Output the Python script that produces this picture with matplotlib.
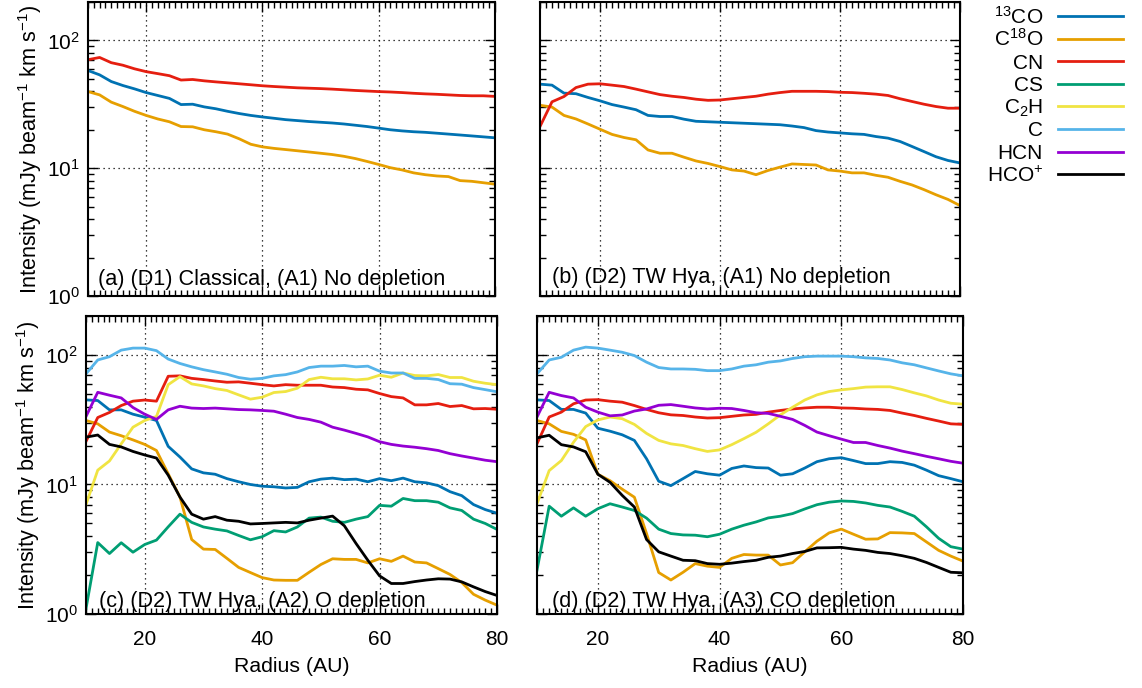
import numpy as np
import matplotlib
matplotlib.use('Agg')
import matplotlib.pyplot as plt
from matplotlib.lines import Line2D
from matplotlib.ticker import LogLocator, MultipleLocator, NullFormatter

plt.rcParams['font.family'] = ['Liberation Sans', 'DejaVu Sans']
plt.rcParams['mathtext.fontset'] = 'custom'
plt.rcParams['mathtext.rm'] = 'Liberation Sans'
plt.rcParams['mathtext.it'] = 'Liberation Sans:italic'
plt.rcParams['mathtext.bf'] = 'Liberation Sans:bold'

# radius grid (AU), every 2 AU from 10 to 80
radius = np.arange(10, 81, 2)

species = ['13CO', 'C18O', 'CN', 'CS', 'C2H', 'C', 'HCN', 'HCO+']
labels = [r'$^{13}$CO', r'C$^{18}$O', 'CN', 'CS', r'C$_2$H', 'C', 'HCN', r'HCO$^{+}$']
colors = ['#0072b2', '#e69f00', '#e51e10', '#009e73', '#f0e442', '#56b4e9', '#9400d3', 'black']

# (a) D1 classical, A1 no depletion
a_13co = [58.2, 53.8, 47.7, 44.4, 41.8, 39.1, 37.1, 35.2, 31.5, 31.7, 30.2, 29.2, 27.9, 26.8, 25.9, 25.2,
          24.6, 24.0, 23.6, 23.2, 22.9, 22.6, 22.2, 21.7, 21.2, 20.6, 20.0, 19.6, 19.3, 19.1, 18.8, 18.5,
          18.2, 17.9, 17.6, 17.3]
a_c18o = [39.8, 37.5, 32.9, 30.4, 27.9, 25.9, 24.3, 23.1, 21.2, 21.1, 20.0, 19.3, 18.5, 17.0, 15.4, 14.7,
          14.3, 14.0, 13.7, 13.4, 13.1, 12.8, 12.4, 11.9, 11.3, 10.7, 10.1, 9.7, 9.2, 8.9, 8.7, 8.6,
          8.0, 7.9, 7.7, 7.5]
a_cn = [70.7, 73.6, 67.0, 64.0, 60.0, 57.0, 55.0, 53.0, 49.0, 49.5, 48.3, 47.4, 46.6, 45.8, 45.0, 44.2,
        43.6, 43.1, 42.6, 42.3, 42.0, 41.6, 41.1, 40.6, 40.2, 39.8, 39.5, 39.1, 38.6, 38.2, 37.9, 37.5,
        37.1, 36.9, 36.9, 36.5]

# (b) D2 TW Hya, A1 no depletion
b_13co = [45.5, 44.7, 38.7, 38.3, 35.8, 33.7, 31.5, 30.1, 28.7, 25.9, 25.4, 25.4, 24.2, 23.3, 23.1, 22.9,
          22.7, 22.5, 22.3, 22.1, 21.9, 21.4, 20.8, 19.7, 19.2, 18.9, 18.6, 18.4, 17.7, 17.2, 16.2, 14.8,
          13.5, 12.3, 11.5, 11.0]
b_c18o = [31.1, 30.1, 25.9, 24.3, 22.2, 20.2, 18.4, 17.4, 16.7, 13.9, 13.1, 13.1, 12.2, 11.4, 10.9, 10.3,
          9.7, 9.5, 8.9, 9.6, 10.2, 10.8, 10.7, 10.6, 9.7, 9.5, 9.2, 9.2, 8.8, 8.5, 7.9, 7.4,
          6.8, 6.2, 5.7, 5.1]
b_cn = [21.2, 33.1, 36.4, 42.8, 45.5, 45.8, 44.7, 43.6, 41.6, 39.6, 37.7, 36.6, 35.8, 34.7, 34.0, 34.2,
        35.0, 35.8, 36.6, 38.0, 39.1, 40.0, 40.0, 40.0, 39.8, 39.3, 39.1, 38.6, 38.0, 37.1, 35.0, 33.3,
        31.7, 30.4, 29.5, 29.5]

# (c) D2 TW Hya, A2 O depletion
c_13co = [45.0, 44.5, 37.7, 37.7, 34.9, 33.1, 31.2, 19.7, 16.3, 13.2, 12.3, 12.0, 11.1, 10.5, 10.0, 9.7,
          9.6, 9.4, 9.5, 10.5, 11.0, 11.2, 10.9, 11.0, 10.5, 11.1, 10.7, 11.2, 10.5, 10.3, 9.8, 8.8,
          8.2, 7.0, 6.4, 6.0]
c_c18o = [31.2, 29.4, 25.4, 23.8, 22.1, 20.4, 18.3, 12.1, 8.0, 3.76, 3.17, 3.15, 2.69, 2.29, 2.09, 1.91,
          1.83, 1.82, 1.82, 2.10, 2.41, 2.67, 2.64, 2.64, 2.48, 2.67, 2.55, 2.80, 2.52, 2.48, 2.24, 2.02,
          1.75, 1.42, 1.28, 1.17]
c_cn = [21.5, 32.9, 36.0, 40.7, 44.0, 44.9, 44.0, 68.5, 69.0, 66.0, 64.6, 63.0, 61.6, 62.0, 60.5, 59.0,
        57.7, 59.0, 58.4, 58.4, 58.4, 56.6, 56.0, 54.4, 53.8, 50.4, 47.7, 46.6, 41.2, 41.2, 42.2, 40.0,
        40.7, 38.4, 38.6, 38.1]
c_cs = [1.1, 3.56, 2.93, 3.55, 3.0, 3.44, 3.72, 4.71, 5.9, 5.1, 4.7, 4.52, 4.38, 4.04, 3.74, 3.95,
        4.4, 4.3, 4.7, 5.5, 5.6, 5.2, 5.1, 5.4, 5.65, 6.9, 6.8, 7.8, 7.5, 7.5, 7.3, 6.6,
        6.3, 5.4, 5.0, 4.5]
c_c2h = [7.0, 12.9, 15.2, 20.6, 27.7, 31.2, 33.5, 59.0, 68.0, 59.8, 57.7, 55.0, 53.2, 49.2, 45.6, 47.2,
         51.3, 52.2, 55.4, 64.6, 67.3, 65.5, 65.5, 64.2, 65.3, 69.8, 67.3, 72.6, 69.4, 69.0, 70.6, 67.0,
         67.0, 62.7, 60.5, 59.0]
c_c = [71.5, 91.5, 97.0, 109, 113, 113, 108, 93.0, 86.0, 81.0, 77.0, 74.0, 71.0, 67.0, 65.0, 66.0,
       69.0, 70.5, 74.0, 80.0, 82.0, 82.0, 83.0, 81.0, 82.0, 75.0, 72.6, 72.6, 66.0, 66.0, 64.6, 60.0,
       59.5, 56.0, 54.0, 52.0]
c_hcn = [33.5, 51.5, 48.9, 46.6, 39.3, 34.9, 31.8, 37.7, 40.2, 38.9, 38.6, 38.9, 38.4, 37.9, 37.7, 37.3,
         36.8, 34.9, 32.9, 31.8, 30.3, 27.7, 26.3, 24.8, 23.3, 21.4, 20.4, 19.8, 19.4, 18.9, 18.3, 17.3,
         16.6, 16.0, 15.4, 15.0]
c_hcop = [23.2, 24.1, 20.4, 19.5, 18.0, 16.9, 16.0, 11.8, 8.0, 5.9, 5.4, 5.65, 5.3, 5.2, 4.96, 5.0,
          5.05, 5.1, 5.05, 5.3, 5.5, 5.7, 4.8, 3.5, 2.6, 1.97, 1.72, 1.72, 1.78, 1.83, 1.87, 1.86,
          1.77, 1.62, 1.49, 1.39]

# (d) D2 TW Hya, A3 CO depletion
d_13co = [45.0, 44.5, 38.0, 38.0, 35.6, 27.2, 25.8, 24.2, 21.9, 15.8, 10.6, 9.8, 11.1, 12.6, 12.1, 11.8,
          13.3, 13.9, 13.5, 13.4, 11.8, 12.1, 13.4, 15.0, 15.8, 16.1, 15.3, 14.5, 14.5, 15.0, 14.8, 14.1,
          12.9, 11.7, 11.1, 10.5]
d_c18o = [31.2, 29.4, 25.7, 24.4, 22.1, 12.0, 10.7, 9.2, 7.98, 4.18, 2.09, 1.83, 2.10, 2.45, 2.34, 2.29,
          2.69, 2.88, 2.85, 2.85, 2.39, 2.49, 3.02, 3.65, 4.23, 4.52, 4.13, 3.78, 3.80, 4.25, 4.23, 4.18,
          3.6, 3.1, 2.80, 2.56]
d_cn = [20.6, 33.2, 36.2, 42.0, 44.9, 45.2, 44.0, 43.2, 40.7, 38.0, 35.8, 34.5, 34.1, 33.2, 32.6, 32.8,
        33.6, 34.4, 34.8, 36.2, 37.3, 38.3, 39.0, 39.5, 39.5, 39.0, 38.8, 38.3, 38.0, 37.3, 35.6, 34.1,
        32.4, 30.9, 29.4, 29.1]
d_cs = [2.18, 6.8, 5.69, 6.6, 5.69, 6.5, 7.1, 6.7, 6.3, 5.5, 4.52, 4.18, 4.08, 4.06, 3.95, 4.13,
        4.52, 4.85, 5.14, 5.52, 5.69, 5.96, 6.47, 6.98, 7.3, 7.46, 7.4, 7.2, 6.9, 6.7, 6.2, 5.69,
        4.71, 3.84, 3.31, 3.17]
d_c2h = [7.1, 12.8, 15.3, 21.2, 28.0, 31.5, 33.2, 32.2, 29.1, 24.8, 21.9, 20.6, 20.0, 18.9, 18.0, 18.5,
         20.3, 22.6, 25.3, 29.4, 34.5, 39.5, 44.9, 49.2, 52.2, 53.8, 55.0, 56.5, 56.8, 56.8, 54.1, 51.0,
         48.3, 44.9, 42.4, 41.7]
d_c = [71.5, 91.5, 96.0, 109, 115, 113, 109, 105, 99.0, 88.0, 80.0, 78.0, 78.0, 77.5, 75.7, 75.7,
       78.0, 82.0, 84.0, 88.0, 90.0, 94.0, 97.0, 98.0, 98.0, 98.0, 97.0, 95.0, 94.0, 91.5, 87.0, 84.0,
       79.5, 75.3, 71.5, 69.0]
d_hcn = [33.2, 51.5, 48.6, 46.6, 39.5, 36.2, 33.9, 34.4, 36.9, 38.3, 40.9, 41.4, 40.2, 39.0, 38.3, 38.8,
         38.6, 37.3, 35.8, 35.4, 33.6, 31.8, 28.6, 25.4, 23.8, 22.4, 21.1, 21.1, 20.0, 19.1, 18.1, 17.3,
         16.5, 15.8, 15.1, 14.6]
d_hcop = [22.9, 24.0, 20.3, 19.5, 17.9, 12.0, 10.4, 8.24, 6.7, 3.76, 3.02, 2.80, 2.6, 2.58, 2.45, 2.42,
          2.47, 2.54, 2.6, 2.74, 2.80, 2.93, 3.04, 3.24, 3.25, 3.27, 3.17, 3.10, 2.99, 2.93, 2.82, 2.69,
          2.5, 2.29, 2.10, 2.08]

panels = [
    ('(a) (D1) Classical, (A1) No depletion', [a_13co, a_c18o, a_cn]),
    ('(b) (D2) TW Hya, (A1) No depletion', [b_13co, b_c18o, b_cn]),
    ('(c) (D2) TW Hya, (A2) O depletion', [c_13co, c_c18o, c_cn, c_cs, c_c2h, c_c, c_hcn, c_hcop]),
    ('(d) (D2) TW Hya, (A3) CO depletion', [d_13co, d_c18o, d_cn, d_cs, d_c2h, d_c, d_hcn, d_hcop]),
]

W, H = 1142, 688
# axes boxes in pixels: left, top, right, bottom
boxes = [(88, 2, 495, 296), (540, 2, 960, 296), (86, 316, 497, 614), (537, 316, 963, 614)]
# label offsets inside each panel in pixels (from left, baseline above bottom)
text_off = [(10, 11), (12, 13), (13, 7), (15, 7)]

fig = plt.figure(figsize=(W / 100, H / 100), dpi=100)
fs = 15
tfs = 15.6
for i, ((title, series), (l, t, r, b)) in enumerate(zip(panels, boxes)):
    ax = fig.add_axes([l / W, (H - b) / H, (r - l) / W, (b - t) / H])
    for j, vals in enumerate(series):
        ax.plot(radius, vals, color=colors[j], lw=2, label=labels[j])
    ax.set_yscale('log')
    ax.set_xlim(10, 80)
    ax.set_ylim(1, 200)
    ax.xaxis.set_major_locator(MultipleLocator(20))
    ax.xaxis.set_minor_locator(MultipleLocator(1))
    ax.yaxis.set_major_locator(LogLocator(base=10))
    ax.yaxis.set_minor_locator(LogLocator(base=10, subs=np.arange(2, 10)))
    ax.yaxis.set_minor_formatter(NullFormatter())
    ax.tick_params(which='both', direction='in', top=True, right=True, labelsize=fs, width=1)
    ax.tick_params(which='major', length=7)
    ax.tick_params(axis='y', which='major', pad=6)
    ax.tick_params(axis='x', which='major', pad=11.5)
    ax.tick_params(which='minor', length=4)
    for sp in ax.spines.values():
        sp.set_linewidth(1.5)
    ax.grid(True, which='major', color='k', linestyle=(0, (1, 3)), lw=0.9)
    dx, dy = text_off[i]
    ax.text(dx / (r - l), dy / (b - t), title, transform=ax.transAxes, fontsize=tfs,
            va='baseline', ha='left')
    if i in (0, 2):
        ax.set_ylabel(r'Intensity (mJy beam$^{-1}$ km s$^{-1}$)', fontsize=tfs, labelpad=2)
    else:
        ax.set_yticklabels([])
    if i in (2, 3):
        ax.set_xlabel('Radius (AU)', fontsize=15.3, labelpad=6)
    else:
        ax.set_xticklabels([])

# key outside on the right: label right-aligned, then the line sample
key_y0, key_dy = 16, 22.6
for j, lab in enumerate(labels):
    yk = key_y0 + j * key_dy
    fig.text(1043 / W, 1 - (yk + 7.5) / H, lab, ha='right', va='baseline', fontsize=fs)
    fig.add_artist(Line2D([1058 / W, 1123 / W], [1 - yk / H, 1 - yk / H],
                          transform=fig.transFigure, color=colors[j], lw=2))

fig.savefig('out.png', dpi=100)
